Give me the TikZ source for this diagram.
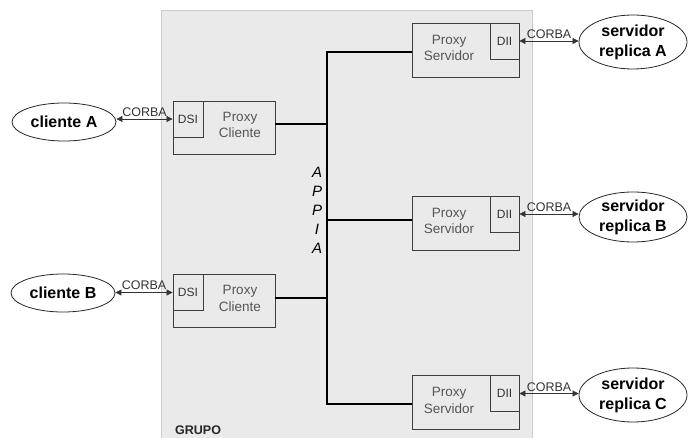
\documentclass[tikz,border=0pt]{standalone}
\usepackage{fontspec}
\setmainfont{Liberation Sans}
\usetikzlibrary{arrows.meta,shapes.geometric}
\definecolor{grp}{RGB}{234,234,234}
\definecolor{boxline}{RGB}{60,60,60}
\definecolor{boxtxt}{RGB}{85,85,85}
\begin{document}
\begin{tikzpicture}[x=1pt,y=-1pt,
  cli/.style={ellipse,draw=black!85,line width=0.8pt,minimum width=104pt,minimum height=38pt,inner sep=0pt,
    font=\fontsize{16}{19}\selectfont\bfseries},
  srv/.style={ellipse,draw=black!85,line width=0.8pt,minimum width=108pt,minimum height=54pt,inner sep=0pt,
    align=center,font=\fontsize{16}{20}\selectfont\bfseries},
  proxy/.style={rectangle,draw=boxline,line width=0.8pt,minimum width=102pt,minimum height=53pt,inner sep=0pt},
  sub/.style={rectangle,draw=boxline,line width=0.8pt,minimum width=30pt,minimum height=36pt,inner sep=0pt,
    font=\fontsize{12}{14}\selectfont,text=black!80},
  ptxt/.style={align=center,inner sep=0pt,font=\fontsize{13.5}{16.5}\selectfont,text=boxtxt},
  corba/.style={{Triangle[length=6pt,width=6pt]}-{Triangle[length=6pt,width=6pt]},draw=black!80,line width=0.7pt},
  lbl/.style={font=\fontsize{12.5}{14}\selectfont,text=black!80,inner sep=0pt,anchor=base},
  bus/.style={draw=black,line width=1.8pt}
]
\useasboundingbox (0,0) rectangle (688,438);
\clip (0,0) rectangle (688,438);
% group background
\fill[grp,draw=black!20] (161,10) rectangle (532,445);
\node[anchor=north west,inner sep=0pt,font=\fontsize{12.5}{14}\selectfont\bfseries,text=black!85] (grupo) at (175,426) {GRUPO};

% clients
\node[cli] (cA) at (64,122) {cliente A};
\node[cli] (cB) at (63,293) {cliente B};

% proxy cliente boxes
\node[proxy] (pcA) at (224,127.5) {};
\node[sub,anchor=north west] (dsiA) at (pcA.north west) {DSI};
\node[ptxt] (tA) at (240,125) {Proxy\\Cliente};
\node[proxy] (pcB) at (224,301) {};
\node[sub,anchor=north west] (dsiB) at (pcB.north west) {DSI};
\node[ptxt] (tB) at (240,298.5) {Proxy\\Cliente};

% proxy servidor boxes
\node[proxy,minimum width=107pt,minimum height=54pt] (psA) at (465.5,50) {};
\node[sub,minimum width=29pt,anchor=north east] (diiA) at (psA.north east) {DII};
\node[ptxt] (sA) at (449,48) {Proxy\\Servidor};
\node[proxy,minimum width=107pt,minimum height=54pt] (psB) at (465.5,223) {};
\node[sub,minimum width=29pt,anchor=north east] (diiB) at (psB.north east) {DII};
\node[ptxt] (sB) at (449,221) {Proxy\\Servidor};
\node[proxy,minimum width=107pt,minimum height=54pt] (psC) at (465.5,402.5) {};
\node[sub,minimum width=29pt,anchor=north east] (diiC) at (psC.north east) {DII};
\node[ptxt] (sC) at (449,400.5) {Proxy\\Servidor};

% servers
\node[srv] (rA) at (633,42) {servidor\\replica A};
\node[srv,minimum height=50pt] (rB) at (633,217) {servidor\\replica B};
\node[srv] (rC) at (633,395) {servidor\\replica C};

% APPIA bus
\coordinate (bTop) at (327,52);
\coordinate (bB) at (327,220);
\coordinate (bC) at (327,404);
\coordinate (bcA) at (327,124);
\coordinate (bcB) at (327,298);
\draw[bus] (bTop -| psA.west) -- (bTop) -- (bC) -- (bC -| psC.west);
\draw[bus] (bB) -- (bB -| psB.west);
\draw[bus] (bcA -| pcA.east) -- (bcA);
\draw[bus] (bcB -| pcB.east) -- (bcB);
\node[align=center,inner sep=0pt,font=\fontsize{15}{19}\selectfont\itshape,text=black] (appia) at (317,210.5) {A\\P\\P\\I\\A};

% CORBA links
\draw[corba] (dsiA.west -| cA.east) -- node[lbl,yshift=2.5pt] {CORBA} (dsiA.west);
\draw[corba] (dsiB.west -| cB.east) -- node[lbl,yshift=2.5pt] {CORBA} (dsiB.west);
\draw[corba] (diiA.east) -- node[lbl,yshift=2.5pt] {CORBA} (diiA.east -| rA.west);
\draw[corba] (diiB.east) -- node[lbl,yshift=2.5pt] {CORBA} (diiB.east -| rB.west);
\draw[corba] (diiC.east) -- node[lbl,yshift=2.5pt] {CORBA} (diiC.east -| rC.west);
\end{tikzpicture}
\end{document}
